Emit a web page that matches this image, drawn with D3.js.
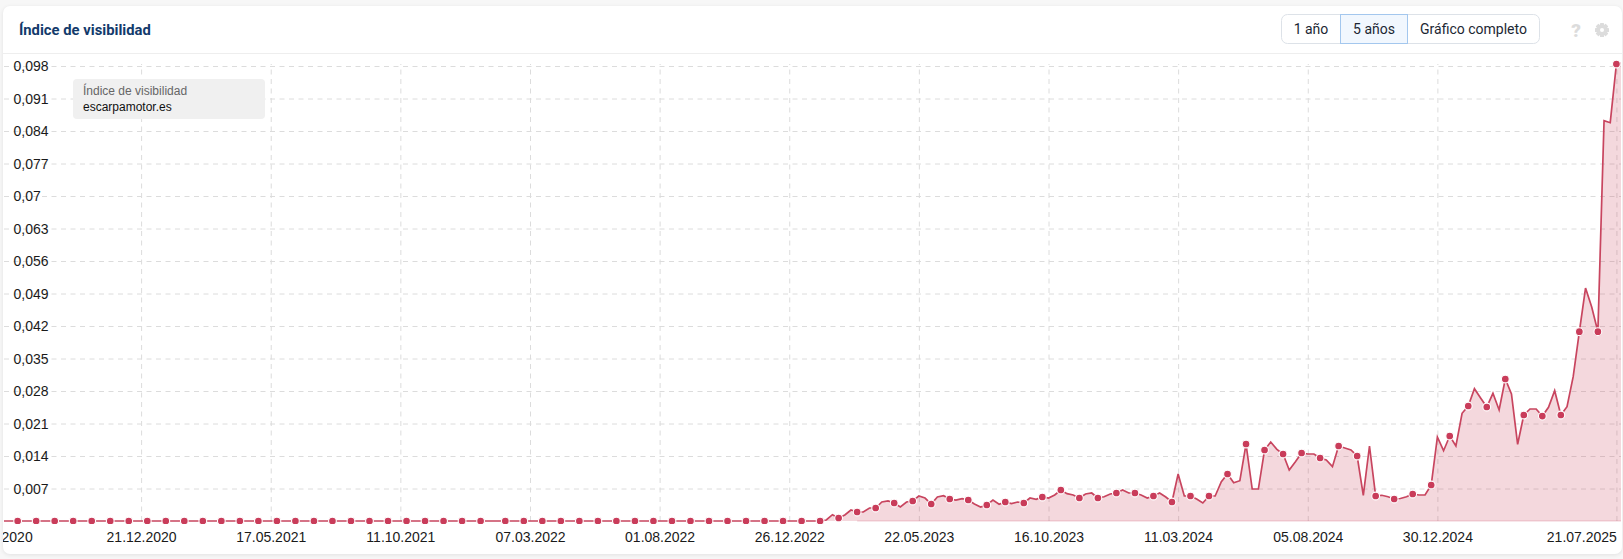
<!DOCTYPE html>
<html lang="es">
<head>
<meta charset="utf-8">
<title>Índice de visibilidad</title>
<script src="https://cdn.jsdelivr.net/npm/d3@7"></script>
<style>
html,body{margin:0;padding:0;background:#f7f7f7;width:1623px;height:559px;overflow:hidden}
#card{position:absolute;left:3px;top:6px;width:1619px;height:548px;background:#fff;border-radius:7px;box-shadow:0 1px 4px rgba(0,0,0,.09)}
svg{position:absolute;left:0;top:0}
</style>
</head>
<body>
<div id="card"></div>
<svg id="chart" width="1623" height="559"></svg>
<script>
const chartTitle = "Índice de visibilidad";
const legendTitle = "Índice de visibilidad";
const legendDomain = "escarpamotor.es";
const rangeButtons = ["1 año", "5 años", "Gráfico completo"];

const yTickValues = [0.007,0.014,0.021,0.028,0.035,0.042,0.049,0.056,0.063,0.07,0.077,0.084,0.091,0.098];
const xTickLabels = ["13.07.2020","21.12.2020","17.05.2021","11.10.2021","07.03.2022","01.08.2022","26.12.2022","22.05.2023","16.10.2023","11.03.2024","05.08.2024","30.12.2024","21.07.2025"];

const firstWeek = "13.07.2020";
const missingWeek = "24.01.2022";

const values = [
0,0,0,0,0,0,0,0,0,0,
0,0,0,0,0,0,0,0,0,0,
0,0,0,0,0,0,0,0,0,0,
0,0,0,0,0,0,0,0,0,0,
0,0,0,0,0,0,0,0,0,0,
0,0,0,0,0,0,0,0,0,0,
0,0,0,0,0,0,0,0,0,0,
0,0,0,0,0,0,0,0,0,0,
0,0,0,0,0,0,0,0,0,0,
0,0,0,0,0,0,0,0,0,0,
0,0,0,0,0,0,0,0,0,0,
0,0,0,0,0,0,0,0,0,0,
0,0,0,0,0,0,0,0,0,0,
0,0,0,
.00022,.00136,
.00065,.00129,.00237,
.00194,.00194,.00280,
.00280,.00409,.00431,
.00388,.00302,.00409,
.00431,.00538,.00495,
.00366,.00517,.00545,
.00474,.00452,.00480,
.00452,.00366,.00302,
.00345,.00452,.00360,
.00409,.00373,.00409,
.00388,.00495,.00467,
.00517,.00495,.00560,
.00668,.00588,.00560,
.00495,.00582,.00603,
.00495,.00523,.00582,
.00603,.00668,.00603,
.00603,.00560,.00495,
.00538,.00603,.00517,
.00409,.01012,.00538,
.00538,.00474,.00388,
.00538,.00538,.00846,
.01012,.00825,.00868,
.01658,.00689,.00689,
.01529,.01701,.01544,
.01443,.01098,.01277,
.01465,.01443,.01443,
.01357,.01314,.01170,
.01615,.01572,.01529,
.01400,.00554,.01615,
.00538,.00554,.00523,
.00474,.00485,.00523,
.00582,.00560,.00560,
.00775,.01809,.01514,
.01831,.01615,.02320,
.02477,.02849,.02649,
.02455,.02750,.02391,
.03058,.02735,.01652,
.02283,.02412,.02412,
.02261,.02449,.02806,
.02283,.02462,.03108,
.04077,.05018,.04609,
.04077,.08622,.08579,
.09843,.09864
];

const parse = d3.timeParse("%d.%m.%Y");
const fmt = d3.timeFormat("%d.%m.%Y");

// weekly crawl dates
const dates = [];
for (let d = parse(firstWeek); dates.length < values.length + 0; d = d3.timeWeek.offset(d, 1)) {
  if (fmt(d) !== missingWeek) dates.push(d);
}
const rows = dates.map((date, i) => ({date, value: values[i], i}));
const markerPhase = (values.length - 2) % 3;

const svg = d3.select("#chart");
const FONT_AXIS = "'Liberation Sans', Arial, sans-serif";
const FONT_UI = "Roboto, sans-serif";

const x = d3.scaleTime()
  .domain([parse("21.12.2020"), parse("21.07.2025")])
  .range([141.1, 1616.4]);
const y = d3.scaleLinear().domain([0, 0.098]).range([521, 66]);

const defs = svg.append("defs");
defs.append("clipPath").attr("id", "plot")
  .append("rect").attr("x", 4).attr("y", 54).attr("width", 1617).attr("height", 470);
defs.append("clipPath").attr("id", "labels")
  .append("rect").attr("x", 3).attr("y", 520).attr("width", 1619).attr("height", 34);

// header
svg.append("line").attr("x1", 3).attr("x2", 1622).attr("y1", 53.5).attr("y2", 53.5)
  .attr("stroke", "#eeeeee").attr("stroke-width", 1);
svg.append("text").attr("x", 19).attr("y", 35)
  .attr("font-family", FONT_UI).attr("font-weight", 700).attr("font-size", 14.8)
  .attr("fill", "#123a6b").text(chartTitle);

// range buttons
const btnEdges = [1281.5, 1340.5, 1407.5, 1539.5];
const btnTop = 14.5, btnH = 29;
svg.append("rect").attr("x", btnEdges[0]).attr("y", btnTop)
  .attr("width", btnEdges[3] - btnEdges[0]).attr("height", btnH).attr("rx", 6)
  .attr("fill", "#fff").attr("stroke", "#dde2e8");
svg.append("rect").attr("x", btnEdges[1]).attr("y", btnTop)
  .attr("width", btnEdges[2] - btnEdges[1]).attr("height", btnH)
  .attr("fill", "#f1f7fe").attr("stroke", "#a3c7ee");
svg.selectAll("text.btn").data(rangeButtons).join("text").attr("class", "btn")
  .attr("x", (d, i) => (btnEdges[i] + btnEdges[i + 1]) / 2)
  .attr("y", 33.5).attr("text-anchor", "middle")
  .attr("font-family", FONT_UI).attr("font-size", 14).attr("fill", "#1c2733").text(d => d);

// help and settings icons
svg.append("text").attr("x", 1576).attr("y", 36.5).attr("text-anchor", "middle")
  .attr("font-family", FONT_UI).attr("font-weight", 900).attr("font-size", 19)
  .attr("fill", "#dcdcdc").text("?");
const gear = svg.append("g").attr("transform", "translate(1602,30)");
gear.selectAll("rect").data(d3.range(4)).join("rect")
  .attr("x", -2).attr("y", -7).attr("width", 4).attr("height", 14).attr("rx", .6)
  .attr("fill", "#dcdcdc").attr("transform", d => `rotate(${d * 45})`);
gear.append("circle").attr("r", 5).attr("fill", "#dcdcdc");
gear.append("circle").attr("r", 2).attr("fill", "#fff");

// grid
const plot = svg.append("g").attr("clip-path", "url(#plot)");
const xGridTicks = xTickLabels.slice(1).map(parse);
const gridY = plot.append("g").attr("transform", "translate(4,0)")
  .call(d3.axisRight(y).tickValues(yTickValues).tickSize(1617).tickFormat(""));
gridY.select(".domain").remove();
const gridX = plot.append("g").attr("transform", "translate(0,521)")
  .call(d3.axisTop(x).tickValues(xGridTicks).tickSize(457).tickFormat(""));
gridX.select(".domain").remove();
plot.selectAll(".tick line")
  .attr("stroke", "#dcdcdc").attr("stroke-width", 1).attr("stroke-dasharray", "5 4.5");

// area + line
const area = d3.area().x(d => x(d.date)).y0(y(0)).y1(d => y(d.value)).curve(d3.curveLinear);
const line = d3.line().x(d => x(d.date)).y(d => y(d.value)).curve(d3.curveLinear);
plot.append("path").datum(rows).attr("d", area).attr("fill", "#c93a57").attr("fill-opacity", .2);
plot.append("line").attr("x1", x(parse("13.03.2023"))).attr("x2", 1621).attr("y1", 521).attr("y2", 521)
  .attr("stroke", "#c93a57").attr("stroke-opacity", .25).attr("stroke-width", 1);
plot.append("path").datum(rows).attr("d", line).attr("fill", "none")
  .attr("stroke", "#c8455f").attr("stroke-width", 1.7).attr("stroke-linejoin", "miter");
plot.selectAll("circle.m").data(rows.filter(d => d.i % 3 === markerPhase)).join("circle").attr("class", "m")
  .attr("cx", d => x(d.date)).attr("cy", d => y(d.value)).attr("r", 3.9)
  .attr("fill", "#c93c5a").attr("stroke", "#fff").attr("stroke-width", 1.1);

// y labels
const yAxis = svg.append("g").attr("transform", "translate(13.5,0.5)")
  .call(d3.axisRight(y).tickValues(yTickValues).tickSize(0).tickPadding(0)
    .tickFormat(d => String(d).replace(".", ",")));
yAxis.select(".domain").remove();
yAxis.selectAll("text").attr("font-family", FONT_AXIS).attr("font-size", 14).attr("fill", "#1a1a1a");

// x labels
const xAxis = svg.append("g").attr("clip-path", "url(#labels)").append("g").attr("transform", "translate(0,521)")
  .call(d3.axisBottom(x).tickValues(xTickLabels.map(parse)).tickSize(0).tickPadding(11)
    .tickFormat(fmt));
xAxis.select(".domain").remove();
xAxis.selectAll("text").attr("font-family", FONT_AXIS).attr("font-size", 14).attr("fill", "#1a1a1a")
  .attr("text-anchor", (d, i, n) => i === n.length - 1 ? "end" : "middle")
  .attr("dx", (d, i) => i === 0 ? -2 : 0);

// legend
svg.append("rect").attr("x", 73).attr("y", 79).attr("width", 192).attr("height", 40).attr("rx", 4).attr("fill", "#f0f0f0");
svg.append("text").attr("x", 83).attr("y", 95).attr("font-family", FONT_AXIS).attr("font-size", 12).attr("fill", "#666").text(legendTitle);
svg.append("text").attr("x", 83).attr("y", 111).attr("font-family", FONT_AXIS).attr("font-size", 12).attr("fill", "#111").text(legendDomain);
</script>
</body>
</html>
